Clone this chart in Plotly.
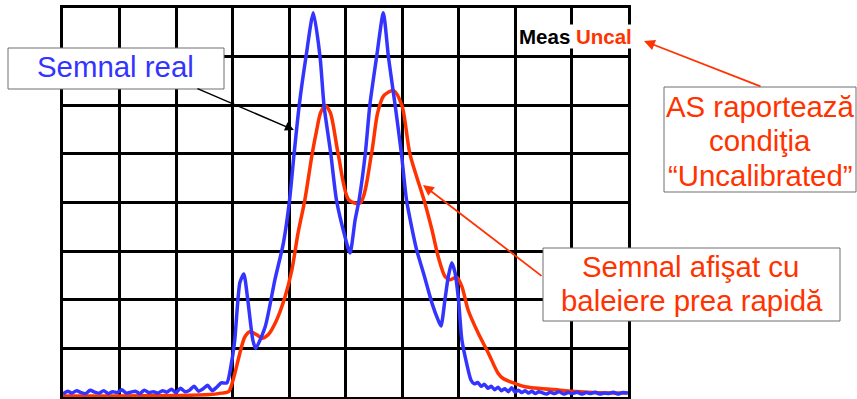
import plotly.graph_objects as go

# Screen in divisions: 10 horizontal x 8 vertical
freq_real = [0.00, 0.08, 0.16, 0.24, 0.32, 0.40, 0.48, 0.56, 0.64, 0.72, 0.80, 0.88, 0.96,
             1.04, 1.12, 1.20, 1.28, 1.36, 1.44, 1.52, 1.60, 1.68, 1.76, 1.84, 1.92, 2.00,
             2.08, 2.16, 2.24, 2.32, 2.40, 2.48, 2.56, 2.64, 2.72, 2.80, 2.90, 2.99, 3.04,
             3.13, 3.20, 3.27, 3.36, 3.41, 3.58, 3.75, 3.90, 4.01, 4.09, 4.18, 4.30, 4.43,
             4.55, 4.62, 4.74, 4.84, 4.99, 5.08, 5.17, 5.24, 5.35, 5.43, 5.55, 5.67, 5.76,
             5.88, 5.99, 6.08, 6.17, 6.26, 6.38, 6.53, 6.64, 6.69, 6.76, 6.82, 6.88, 6.94,
             7.00, 7.06, 7.15, 7.22, 7.28, 7.34, 7.40, 7.46, 7.52, 7.58, 7.64, 7.70, 7.76,
             7.82, 7.88, 7.94, 8.00, 8.06, 8.12, 8.18, 8.24, 8.30, 8.36, 8.42, 8.48, 8.56,
             8.62, 8.70, 8.78, 8.86, 8.94, 9.02, 9.10, 9.18, 9.26, 9.34, 9.42, 9.50, 9.58,
             9.66, 9.74, 9.82, 9.90, 10.00]
ampl_real = [0.06, 0.12, 0.08, 0.13, 0.09, 0.07, 0.14, 0.10, 0.08, 0.13, 0.07, 0.11, 0.09,
             0.15, 0.08, 0.10, 0.12, 0.07, 0.14, 0.09, 0.11, 0.08, 0.13, 0.10, 0.16, 0.09,
             0.18, 0.11, 0.14, 0.22, 0.12, 0.17, 0.24, 0.13, 0.20, 0.29, 0.29, 0.76, 1.17,
             2.35, 2.53, 2.00, 1.17, 1.00, 1.45, 2.41, 3.16, 4.05, 5.00, 5.99, 6.99, 7.90,
             6.99, 5.99, 5.00, 4.05, 3.30, 2.96, 3.64, 4.05, 5.00, 5.99, 6.99, 7.90, 6.99,
             5.99, 5.00, 4.05, 3.50, 3.02, 2.55, 1.93, 1.58, 1.46, 2.00, 2.48, 2.76, 2.55,
             2.00, 1.17, 0.66, 0.35, 0.27, 0.30, 0.22, 0.26, 0.18, 0.22, 0.15, 0.20, 0.13,
             0.17, 0.11, 0.19, 0.10, 0.14, 0.09, 0.13, 0.08, 0.12, 0.07, 0.11, 0.09, 0.06,
             0.10, 0.07, 0.11, 0.06, 0.09, 0.07, 0.10, 0.06, 0.09, 0.07, 0.10, 0.06, 0.08,
             0.07, 0.10, 0.06, 0.09, 0.08]

freq_disp = [0.00, 1.00, 2.00, 2.60, 2.80, 2.93, 3.01, 3.10, 3.13, 3.22, 3.31, 3.43, 3.52,
             3.63, 3.78, 3.93, 4.05, 4.16, 4.28, 4.41, 4.49, 4.56, 4.64, 4.73, 4.87, 5.06,
             5.26, 5.46, 5.57, 5.68, 5.85, 6.00, 6.14, 6.39, 6.53, 6.64, 6.76, 6.85, 6.97,
             7.06, 7.17, 7.35, 7.53, 7.70, 7.79, 8.00, 8.18, 8.80, 9.39, 9.98]
ampl_disp = [0.02, 0.02, 0.03, 0.05, 0.08, 0.11, 0.35, 0.76, 0.90, 1.24, 1.34, 1.28, 1.21,
             1.28, 1.58, 2.06, 2.61, 3.37, 4.05, 5.00, 5.49, 5.85, 5.99, 5.85, 5.00, 4.05,
             3.99, 5.00, 5.85, 6.20, 6.30, 5.99, 5.00, 4.05, 3.44, 2.89, 2.48, 2.41, 2.46,
             2.27, 1.79, 1.31, 0.90, 0.49, 0.38, 0.28, 0.21, 0.14, 0.09, 0.08]

BLUE = "#3434FF"
RED = "#FF3300"
FONT = "Liberation Sans, Arial, sans-serif"

W, H = 857, 399
L, R, T, B = 63, 229, 8, 2
PW, PH = W - L - R, H - T - B


def px(x):
    return (x - L) / PW


def py(y):
    return (H - B - y) / PH


fig = go.Figure()
fig.add_trace(go.Scatter(x=freq_disp, y=ampl_disp, mode="lines",
                         line=dict(color=RED, width=3.5, shape="spline", smoothing=0.8),
                         hoverinfo="skip", showlegend=False))
fig.add_trace(go.Scatter(x=freq_real, y=ampl_real, mode="lines",
                         line=dict(color=BLUE, width=3.5, shape="spline", smoothing=0.6),
                         hoverinfo="skip", showlegend=False))

axis_common = dict(showgrid=True, gridcolor="black", gridwidth=3, dtick=1,
                   showline=True, linecolor="black", linewidth=3, mirror=True,
                   zeroline=False, showticklabels=False, ticks="", fixedrange=True)
fig.update_xaxes(range=[0, 10], tick0=0, **axis_common)
fig.update_yaxes(range=[0, 8], tick0=0, **axis_common)

shapes = []
annotations = []


def box(x0, y0, x1, y1):
    shapes.append(dict(type="rect", xref="paper", yref="paper",
                       x0=px(x0), x1=px(x1), y0=py(y1), y1=py(y0),
                       fillcolor="white", line=dict(color="#6E6E6E", width=1), layer="above"))


def label(text, x, y, color, size=29.4):
    annotations.append(dict(text=text, xref="paper", yref="paper", x=px(x), y=py(y),
                            xanchor="center", yanchor="middle", showarrow=False,
                            font=dict(family=FONT, size=size, color=color)))


def arrow(x_head, y_head, x_tail, y_tail, color, width):
    annotations.append(dict(text="", xref="paper", yref="paper", x=px(x_head), y=py(y_head),
                            ax=x_tail - x_head, ay=y_tail - y_head, axref="pixel", ayref="pixel",
                            showarrow=True, arrowhead=2, arrowsize=1.2, arrowwidth=width,
                            arrowcolor=color))


# "Semnal real" callout
box(8, 48, 224, 89)
label("Semnal real", 115.5, 66, BLUE)
arrow(294, 130, 196, 88, "black", 1.5)

# Measurement status readout
annotations.append(dict(text="<b>Meas</b> <b><span style='color:%s'>Uncal</span></b>" % RED,
                        xref="paper", yref="paper", x=px(575.5), y=py(36),
                        xanchor="center", yanchor="middle", showarrow=False,
                        bgcolor="white", borderpad=0,
                        font=dict(family=FONT, size=20.5, color="black")))

# "Uncalibrated" callout
arrow(644, 41, 762, 87, RED, 1.8)
box(664, 87, 856, 192)
label("AS raportează", 760, 106.7, RED)
label("condiţia", 760, 140, RED)
label("“Uncalibrated”", 760, 175, RED)

# fast-sweep callout
arrow(423, 185, 543, 277, RED, 1.8)
box(543, 248, 840, 321)
label("Semnal afişat cu", 690.5, 266, RED)
label("baleiere prea rapidă", 691.5, 300, RED)

fig.update_layout(width=W, height=H,
                  margin=dict(l=L, r=R, t=T, b=B, autoexpand=False),
                  paper_bgcolor="white", plot_bgcolor="white",
                  shapes=shapes, annotations=annotations,
                  hovermode=False)

fig.write_html("out.html")
